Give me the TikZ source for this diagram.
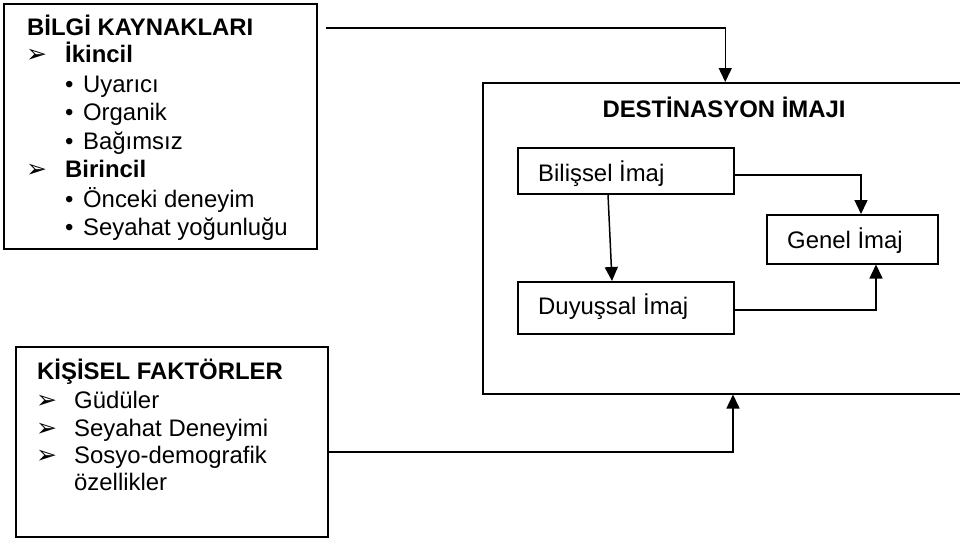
\documentclass[tikz,border=0pt]{standalone}
\usepackage{fontspec}
\setmainfont{Liberation Sans}
\newfontfamily\symfont{DejaVu Sans}
\usetikzlibrary{arrows.meta,calc}
\tikzset{
  boxstyle/.style={draw, line width=1.5pt, inner sep=0pt, anchor=north west},
  txt/.style={inner sep=0pt, anchor=base west, font=\fontsize{23.9pt}{28pt}\selectfont},
  btxt/.style={txt, font=\fontsize{23.9pt}{28pt}\selectfont\bfseries},
  arr/.style={inner sep=0pt, anchor=base west, font=\fontsize{25pt}{28pt}\selectfont\symfont},
  conn/.style={line width=1.5pt, -{Triangle[length=14pt,width=13pt]}},
}
\newcommand{\bul}{•\hspace{9.6pt}}
\begin{document}
\begin{tikzpicture}[x=1pt,y=-1pt]
\useasboundingbox (0,0) rectangle (960,538);
% boxes
\node[boxstyle, minimum width=313pt, minimum height=245pt] (bilgi) at (3,3) {};
\node[boxstyle, minimum width=312pt, minimum height=190pt] (kisisel) at (15,346) {};
\node[boxstyle, minimum width=485pt, minimum height=311pt] (dest) at (482,82) {};
\node[boxstyle, minimum width=216pt, minimum height=46pt] (bilissel) at (517,147) {};
\node[boxstyle, minimum width=216pt, minimum height=52pt] (duyussal) at (517,281) {};
\node[boxstyle, minimum width=171pt, minimum height=49pt] (genel) at (766,214) {};
% BILGI text
\node[btxt] (t1) at (27,35) {BİLGİ KAYNAKLARI};
\node[arr] (a1) at (26,62) {➢};
\node[btxt] (t2) at (65,62) {İkincil};
\node[txt] (t3) at (65,92) {\bul Uyarıcı};
\node[txt] (t4) at (65,120) {\bul Organik};
\node[txt] (t5) at (65,149) {\bul Bağımsız};
\node[arr] (a2) at (26,177) {➢};
\node[btxt] (t6) at (65,177) {Birincil};
\node[txt] (t7) at (65,207) {\bul Önceki deneyim};
\node[txt] (t8) at (65,235) {\bul Seyahat yoğunluğu};
% KISISEL text
\node[btxt] (k1) at (37,379) {KİŞİSEL FAKTÖRLER};
\node[arr] (b1) at (36,408) {➢};
\node[txt] (k2) at (74,408) {Güdüler};
\node[arr] (b2) at (36,436) {➢};
\node[txt] (k3) at (74,436) {Seyahat Deneyimi};
\node[arr] (b3) at (36,463) {➢};
\node[txt] (k4) at (74,463) {Sosyo-demografik};
\node[txt] (k5) at (74,490) {özellikler};
% DEST text
\node[btxt, anchor=base] (d1) at (724,117) {DESTİNASYON İMAJI};
\node[txt] (d2) at (538,181) {Bilişsel İmaj};
\node[txt] (d3) at (538,314) {Duyuşsal İmaj};
\node[txt] (d4) at (787,248) {Genel İmaj};
% connectors
\coordinate (s1) at (326,28);
\draw[conn] (s1) -| (dest.north);
\draw[conn] ($(bilissel.south west)+(91,0)$) -- ($(duyussal.north west)+(95,0)$);
\draw[conn] ($(bilissel.east)+(0,4)$) -| ($(genel.north west)+(95,0)$);
\draw[conn] ($(duyussal.east)+(0,2)$) -| ($(genel.south west)+(110,0)$);
\draw[conn] ($(kisisel.east)+(0,10)$) -| ($(dest.south west)+(251,0)$);
\end{tikzpicture}
\end{document}
